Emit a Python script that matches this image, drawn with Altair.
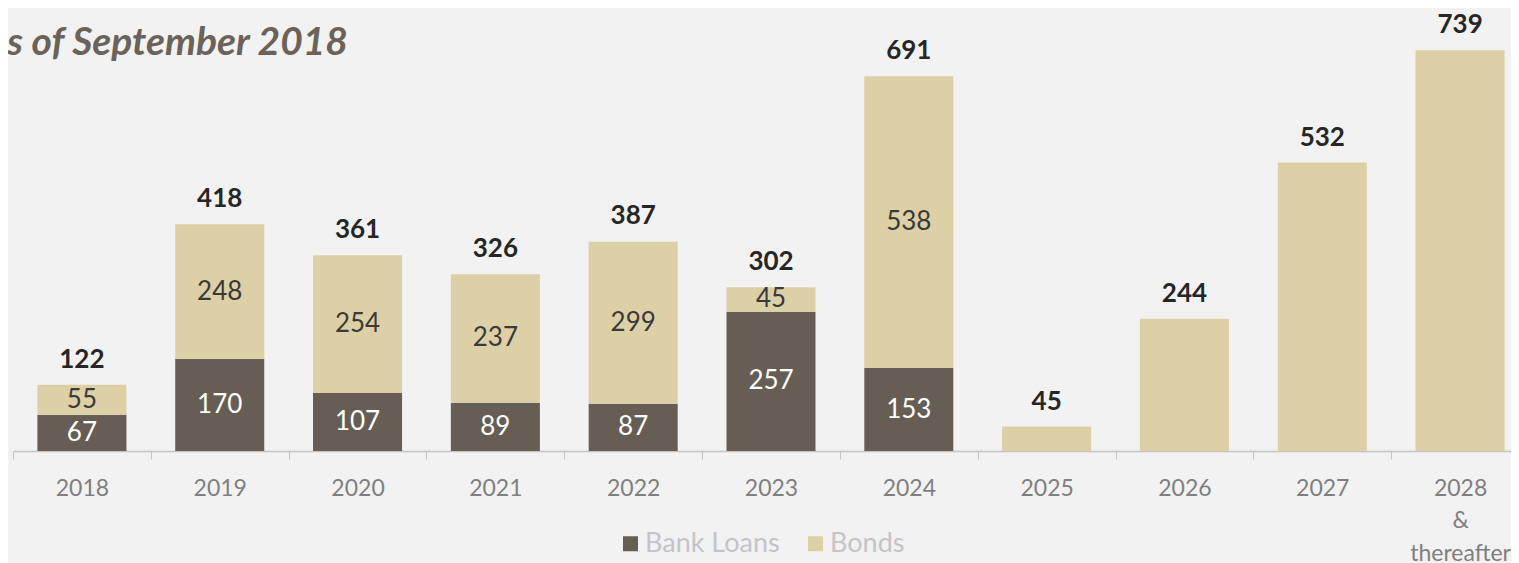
import altair as alt
import pandas as pd

years = ["2018", "2019", "2020", "2021", "2022", "2023", "2024", "2025", "2026", "2027", "2028 & thereafter"]
bank_loans = [67, 170, 107, 89, 87, 257, 153, 0, 0, 0, 0]
bonds = [55, 248, 254, 237, 299, 45, 538, 45, 244, 532, 739]
totals = [122, 418, 361, 326, 387, 302, 691, 45, 244, 532, 739]
series = ["Bank Loans", "Bonds"]
title_text = "As of September 2018"

DARK = "#665e55"
BEIGE = "#ddd0a6"

rows = []
for i, yr in enumerate(years):
    rows.append(dict(year=yr, series="Bank Loans", value=bank_loans[i], order=0, show=bool(bank_loans[i] > 0)))
    rows.append(dict(year=yr, series="Bonds", value=bonds[i], order=1, show=bool(bank_loans[i] > 0)))
df = pd.DataFrame(rows)
tot_df = pd.DataFrame(dict(year=years, total=totals))
title_df = pd.DataFrame(dict(t=[title_text]))

xscale = alt.Scale(domain=years, paddingInner=0, paddingOuter=0, rangeMax=1516, round=False)
yscale = alt.Scale(domain=[0, 817], nice=False, zero=True)

label_expr = "datum.value == '2028 & thereafter' ? ['2028', '&', 'thereafter'] : datum.label"
xenc = alt.X("year:N", sort=years, scale=xscale,
             axis=alt.Axis(title=None, labelExpr=label_expr, labelAngle=0))

bars = alt.Chart(df).mark_bar(width={"band": 0.646}).encode(
    x=xenc,
    y=alt.Y("value:Q", stack="zero", scale=yscale, axis=None),
    color=alt.Color("series:N", scale=alt.Scale(domain=series, range=[DARK, BEIGE]),
                    legend=alt.Legend(title=None, orient="none", legendX=604, legendY=522,
                                      direction="horizontal", symbolType="square", symbolSize=225,
                                      symbolStrokeWidth=0, labelFont="Lato", labelFontSize=27,
                                      labelColor="#c4c4c8", columnPadding=22, labelOffset=1,
                                      padding=0)),
    order=alt.Order("order:Q"),
)

inner = alt.Chart(df).transform_filter("datum.show").transform_stack(
    stack="value", groupby=["year"], sort=[alt.SortField("order")], as_=["v0", "v1"]
).transform_calculate(mid="(datum.v0 + datum.v1) / 2").mark_text(
    font="Lato", fontSize=26, baseline="middle", align="center"
).encode(
    x=alt.X("year:N", sort=years, scale=xscale),
    y=alt.Y("mid:Q", scale=yscale, axis=None),
    text=alt.Text("value:Q"),
    color=alt.condition("datum.series == 'Bank Loans'", alt.value("#ffffff"), alt.value("#3a3a3a")),
)

tot = alt.Chart(tot_df).mark_text(
    font="Lato", fontSize=26, fontWeight="bold", baseline="middle", align="center", dy=-25, color="#262626"
).encode(
    x=alt.X("year:N", sort=years, scale=xscale),
    y=alt.Y("total:Q", scale=yscale, axis=None),
    text=alt.Text("total:Q"),
)

title = alt.Chart(title_df).mark_text(
    font="Lato", fontSize=39, fontWeight="bold", fontStyle="italic", align="right",
    baseline="alphabetic", color="#6b635a"
).encode(x=alt.value(335), y=alt.value(47), text="t:N")

chart = alt.layer(bars, inner, tot, title).properties(
    width=1498, height=443,
    autosize=alt.AutoSizeParams(type="none"),
    padding={"left": 5, "top": 0, "right": 0, "bottom": 112},
).configure(background="#f2f2f2").configure_view(stroke=None).configure_axis(
    domainColor="#c4c4c4", domainWidth=1.5, tickColor="#c4c4c4", tickSize=8, tickBand="extent",
    labelFont="Lato", labelFontSize=23, labelColor="#7f7f7f", labelPadding=18, labelLineHeight=32.5,
    grid=False,
)

chart.save("out.html", embed_options={"renderer": "svg", "actions": False})
